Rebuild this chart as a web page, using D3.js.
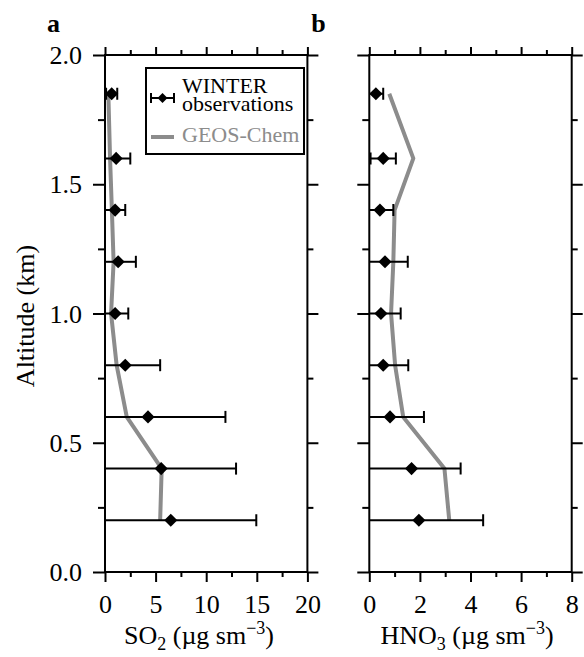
<!DOCTYPE html>
<meta charset="utf-8">
<style>
body {
  margin: 0;
  background: #fff;
  font-family: 'Liberation Serif', 'Times New Roman', serif;
}
.axis .domain {
  display: none;
}
.axis line {
  stroke: #000;
  stroke-width: 2px;
}
.axis text {
  font-family: 'Liberation Serif', 'Times New Roman', serif;
  font-size: 26px;
  fill: #000;
}
.frame {
  fill: none;
  stroke: #000;
  stroke-width: 2px;
}
.model {
  fill: none;
  stroke: #8c8c8c;
  stroke-width: 4px;
  stroke-linejoin: round;
}
.err {
  stroke: #000;
  stroke-width: 2px;
}
</style>
<body>
<div id="chart"></div>
<script src="https://cdn.jsdelivr.net/npm/d3@7"></script>
<script>
// altitude levels (km)
var altitudes = [0.2, 0.4, 0.6, 0.8, 1.0, 1.2, 1.4, 1.6, 1.85];

// panel a: SO2
var so2Obs   = [6.5, 5.55, 4.25, 2.0, 1.0, 1.3, 1.0, 1.1, 0.66];
var so2Err   = [8.45, 7.4, 7.65, 3.45, 1.3, 1.75, 1.0, 1.4, 0.55];
var so2Model = [5.45, 5.6, 2.15, 1.15, 0.6, 0.85, 0.68, 0.5, 0.33];

// panel b: HNO3
var hno3Obs   = [1.96, 1.67, 0.82, 0.55, 0.46, 0.62, 0.42, 0.55, 0.26];
var hno3Err   = [2.54, 1.94, 1.34, 0.99, 0.78, 0.9, 0.53, 0.5, 0.29];
var hno3Model = [3.16, 2.97, 1.34, 1.02, 0.86, 0.95, 1.0, 1.74, 0.79];

var yMajor = [0, 0.5, 1.0, 1.5, 2.0];
var yMinor = [0.25, 0.75, 1.25, 1.75];

var panels = [
  { letter: "a", left: 105, domain: [0, 20], major: [0, 5, 10, 15, 20], minor: [2.5, 7.5, 12.5, 17.5],
    obs: so2Obs, err: so2Err, model: so2Model, species: "SO", sub: "2", labelX: 199, yLabels: true },
  { letter: "b", left: 369.3, domain: [0, 8], major: [0, 2, 4, 6, 8], minor: [1, 3, 5, 7],
    obs: hno3Obs, err: hno3Err, model: hno3Model, species: "HNO", sub: "3", labelX: 467, yLabels: false }
];

var width = 584,
    height = 657,
    plotTop = 55,
    plotBottom = 572,
    panelW = 202.4;

var svg = d3.select("#chart").append("svg")
    .attr("width", width)
    .attr("height", height);

var y = d3.scaleLinear()
    .domain([0, 2])
    .range([plotBottom, plotTop]);

var diamond = d3.symbol().type(d3.symbolSquare).size(86);

panels.forEach(function(p, i) {
  var x = d3.scaleLinear()
      .domain(p.domain)
      .range([p.left, p.left + panelW]);

  var g = svg.append("g");

  // clip region for the data
  svg.append("clipPath")
      .attr("id", "clip" + i)
    .append("rect")
      .attr("x", p.left)
      .attr("y", plotTop)
      .attr("width", panelW)
      .attr("height", plotBottom - plotTop);

  // axes: major and minor ticks on all four sides
  g.append("g").attr("class", "axis")
      .attr("transform", "translate(0," + plotBottom + ")")
      .call(d3.axisBottom(x).tickValues(p.major).tickSize(10).tickSizeOuter(0).tickFormat(d3.format("d")))
    .selectAll("text")
      .attr("y", 41)
      .attr("dy", null);
  g.append("g").attr("class", "axis")
      .attr("transform", "translate(0," + plotBottom + ")")
      .call(d3.axisBottom(x).tickValues(p.minor).tickSize(5).tickSizeOuter(0).tickFormat(""));
  g.append("g").attr("class", "axis")
      .attr("transform", "translate(0," + plotTop + ")")
      .call(d3.axisTop(x).tickValues(p.major).tickSize(8).tickSizeOuter(0).tickFormat(""));
  g.append("g").attr("class", "axis")
      .attr("transform", "translate(0," + plotTop + ")")
      .call(d3.axisTop(x).tickValues(p.minor).tickSize(5).tickSizeOuter(0).tickFormat(""));

  g.append("g").attr("class", "axis")
      .attr("transform", "translate(" + p.left + ",0)")
      .call(d3.axisLeft(y).tickValues(yMajor).tickSize(12).tickPadding(11).tickSizeOuter(0)
        .tickFormat(p.yLabels ? d3.format(".1f") : ""))
    .selectAll("text")
      .attr("dy", "0.33em");
  g.append("g").attr("class", "axis")
      .attr("transform", "translate(" + p.left + ",0)")
      .call(d3.axisLeft(y).tickValues(yMinor).tickSize(7).tickSizeOuter(0).tickFormat(""));
  g.append("g").attr("class", "axis")
      .attr("transform", "translate(" + (p.left + panelW) + ",0)")
      .call(d3.axisRight(y).tickValues(yMajor).tickSize(11).tickSizeOuter(0).tickFormat(""));
  g.append("g").attr("class", "axis")
      .attr("transform", "translate(" + (p.left + panelW) + ",0)")
      .call(d3.axisRight(y).tickValues(yMinor).tickSize(6).tickSizeOuter(0).tickFormat(""));

  g.append("rect")
      .attr("class", "frame")
      .attr("x", p.left)
      .attr("y", plotTop)
      .attr("width", panelW)
      .attr("height", plotBottom - plotTop);

  var data = altitudes.map(function(a, j) {
    return { alt: a, obs: p.obs[j], err: p.err[j], model: p.model[j] };
  });

  var plot = g.append("g").attr("clip-path", "url(#clip" + i + ")");

  // GEOS-Chem profile
  plot.append("path")
      .datum(data)
      .attr("class", "model")
      .attr("d", d3.line()
        .x(function(d) { return x(d.model); })
        .y(function(d) { return y(d.alt); }));

  // observation error bars
  var bars = plot.selectAll(".bar")
      .data(data)
    .enter().append("g")
      .attr("class", "bar");
  bars.append("line")
      .attr("class", "err")
      .attr("x1", function(d) { return x(Math.max(0, d.obs - d.err)); })
      .attr("x2", function(d) { return x(d.obs + d.err); })
      .attr("y1", function(d) { return y(d.alt); })
      .attr("y2", function(d) { return y(d.alt); });
  bars.append("line")
      .attr("class", "err")
      .attr("x1", function(d) { return x(d.obs + d.err); })
      .attr("x2", function(d) { return x(d.obs + d.err); })
      .attr("y1", function(d) { return y(d.alt) - 6; })
      .attr("y2", function(d) { return y(d.alt) + 6; });
  bars.filter(function(d) { return d.obs - d.err > 0; }).append("line")
      .attr("class", "err")
      .attr("x1", function(d) { return x(d.obs - d.err); })
      .attr("x2", function(d) { return x(d.obs - d.err); })
      .attr("y1", function(d) { return y(d.alt) - 6; })
      .attr("y2", function(d) { return y(d.alt) + 6; });

  plot.selectAll(".obs")
      .data(data)
    .enter().append("path")
      .attr("class", "obs")
      .attr("d", diamond)
      .attr("fill", "#000")
      .attr("transform", function(d) { return "translate(" + x(d.obs) + "," + y(d.alt) + ") rotate(45)"; });

  // panel letter
  svg.append("text")
      .attr("x", p.left - 58)
      .attr("y", 32)
      .attr("font-size", 26)
      .attr("font-weight", "bold")
      .text(p.letter);

  // x axis title with sub/superscripts
  var t = svg.append("text")
      .attr("x", p.labelX)
      .attr("y", 644)
      .attr("text-anchor", "middle")
      .attr("font-size", 26);
  t.append("tspan").text(p.species);
  t.append("tspan").attr("font-size", 18).attr("dy", 6).text(p.sub);
  t.append("tspan").attr("dy", -6).text(" (\u00b5g sm");
  t.append("tspan").attr("font-size", 18).attr("dy", -10).text("\u22123");
  t.append("tspan").attr("dy", 10).text(")");
});

// y axis title
svg.append("text")
    .attr("transform", "translate(34,316) rotate(-90)")
    .attr("text-anchor", "middle")
    .attr("font-size", 26)
    .text("Altitude (km)");

// legend
var legend = svg.append("g");
legend.append("rect")
    .attr("x", 146)
    .attr("y", 68)
    .attr("width", 158)
    .attr("height", 86)
    .attr("fill", "#fff")
    .attr("stroke", "#000")
    .attr("stroke-width", 2);
legend.append("line").attr("class", "err")
    .attr("x1", 151).attr("x2", 174).attr("y1", 98).attr("y2", 98);
legend.append("line").attr("class", "err")
    .attr("x1", 151).attr("x2", 151).attr("y1", 93).attr("y2", 103);
legend.append("line").attr("class", "err")
    .attr("x1", 174).attr("x2", 174).attr("y1", 93).attr("y2", 103);
legend.append("path")
    .attr("d", d3.symbol().type(d3.symbolSquare).size(50))
    .attr("transform", "translate(162.5,98) rotate(45)");
legend.append("text")
    .attr("x", 182).attr("y", 93)
    .attr("font-size", 22)
    .text("WINTER");
legend.append("text")
    .attr("x", 182).attr("y", 111)
    .attr("font-size", 22)
    .text("observations");
legend.append("line")
    .attr("class", "model")
    .attr("x1", 151).attr("x2", 174).attr("y1", 137).attr("y2", 137);
legend.append("text")
    .attr("x", 182).attr("y", 142)
    .attr("font-size", 22)
    .attr("fill", "#8c8c8c")
    .text("GEOS-Chem");
</script>
</body>
